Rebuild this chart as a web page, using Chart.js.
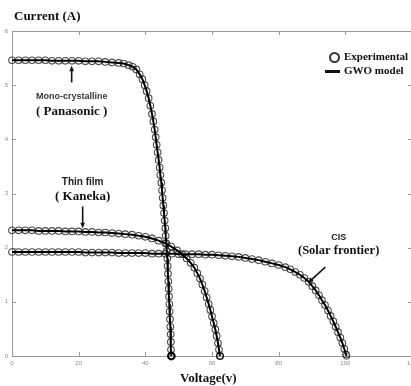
<!DOCTYPE html>
<html><head><meta charset="utf-8">
<script src="https://cdn.jsdelivr.net/npm/chart.js@4"></script>
<style>
html,body{margin:0;padding:0;background:#fff;overflow:hidden}
#wrap{position:relative;width:411px;height:386px;overflow:hidden}
#box{position:absolute;left:0;top:0;width:421px;height:386px}
.t{position:absolute;font-family:"Liberation Serif",serif;font-weight:bold;color:#111;white-space:nowrap;line-height:1}
.sym-o{position:absolute;left:329px;top:52px;width:7px;height:7px;border:2px solid #333;border-radius:50%}
.sym-l{position:absolute;left:325px;top:70px;width:15px;height:3px;background:#111}
</style></head><body>
<div id="wrap">
  <div id="box"><canvas id="c" width="421" height="386"></canvas></div>
  <div class="t" style="left:14px;top:9px;font-size:13px">Current (A)</div>
  <div class="t" style="left:180px;top:371px;font-size:13px">Voltage(v)</div>
  <div class="sym-o"></div>
  <div class="t" style="left:344px;top:51px;font-size:11px">Experimental</div>
  <div class="sym-l"></div>
  <div class="t" style="left:344px;top:65px;font-size:11px">GWO model</div>
</div>
<script>
/* I-V curves: Panasonic / Kaneka / Solar frontier — experimental vs GWO model */
const X_TICKS = [0, 20, 40, 60, 80, 100, 120];
const Y_TICKS = [0, 1, 2, 3, 4, 5, 6];

// Mono-crystalline (Panasonic)
const PAN_V = [0, 2, 4, 6, 8, 10, 12, 14, 16, 18, 20, 22, 24, 26, 28, 30, 32, 33.5, 35, 36.2, 37.3, 38.3, 39.1, 39.8,
  40.4, 41.0, 41.5, 42.0, 42.4, 42.8, 43.1, 43.4, 43.7, 44.0, 44.3, 44.5, 44.8, 45.0, 45.2, 45.4, 45.6, 45.8, 46.0,
  46.1, 46.3, 46.4, 46.6, 46.7, 46.8, 46.9, 47.0, 47.1, 47.2, 47.3, 47.4, 47.5, 47.6, 47.65, 47.7, 47.8];
const PAN_I = [5.46, 5.46, 5.46, 5.46, 5.46, 5.46, 5.45, 5.45, 5.45, 5.45, 5.45, 5.44, 5.44, 5.44, 5.43, 5.42, 5.41, 5.40, 5.37, 5.34, 5.29, 5.20, 5.11, 5.00,
  4.89, 4.76, 4.62, 4.47, 4.33, 4.18, 4.04, 3.90, 3.76, 3.62, 3.48, 3.34, 3.20, 3.06, 2.92, 2.78, 2.64, 2.50, 2.36,
  2.22, 2.08, 1.94, 1.80, 1.66, 1.52, 1.38, 1.24, 1.10, 0.96, 0.82, 0.68, 0.54, 0.40, 0.26, 0.12, 0];

// Thin film (Kaneka)
const KAN_V = [0, 2, 4, 6, 8, 10, 12, 14, 16, 18, 20, 22, 24, 26, 28, 30, 32, 34, 36, 38, 40, 42, 44, 46, 47.8, 49.5,
  51, 52.4, 53.6, 54.7, 55.6, 56.4, 57.1, 57.8, 58.4, 59.0, 59.5, 60.0, 60.5, 61.0, 61.4, 61.8, 62.1, 62.4];
const KAN_I = [2.32, 2.32, 2.32, 2.32, 2.31, 2.31, 2.31, 2.31, 2.30, 2.30, 2.30, 2.29, 2.29, 2.28, 2.28, 2.27, 2.26, 2.25, 2.24, 2.22, 2.20, 2.17, 2.13, 2.08, 2.02, 1.95,
  1.88, 1.80, 1.72, 1.63, 1.53, 1.43, 1.32, 1.20, 1.08, 0.96, 0.85, 0.73, 0.61, 0.49, 0.37, 0.24, 0.12, 0];

// CIS (Solar frontier)
const CIS_V = [0, 2, 4, 6, 8, 10, 12, 14, 16, 18, 20, 22, 24, 26, 28, 30, 32, 34, 36, 38, 40, 42, 44, 46, 48, 50, 52, 54,
  56, 58, 60, 62, 64, 66, 68, 70, 72, 74, 76, 78, 80, 82, 83.5, 85, 86.4, 87.7, 89, 90.1, 91.1, 92.1, 93, 93.9, 94.8,
  95.6, 96.4, 97.1, 97.8, 98.5, 99.1, 99.7, 100.2, 100.4];
const CIS_I = [1.92, 1.92, 1.92, 1.92, 1.92, 1.92, 1.92, 1.92, 1.92, 1.92, 1.92, 1.91, 1.91, 1.91, 1.91, 1.91, 1.90, 1.90, 1.90, 1.90, 1.90, 1.89, 1.89, 1.89, 1.89, 1.88, 1.88, 1.88,
  1.88, 1.87, 1.87, 1.86, 1.85, 1.84, 1.83, 1.81, 1.79, 1.77, 1.74, 1.71, 1.68, 1.64, 1.60, 1.55, 1.50, 1.44, 1.37, 1.29, 1.21, 1.12, 1.03, 0.94, 0.84,
  0.74, 0.64, 0.54, 0.44, 0.34, 0.24, 0.13, 0.03, 0];

// annotations in data units: [V, I]
const NOTES = [
  { text: "Mono-crystalline", at: [17.9, 4.79], font: "bold 9px 'Liberation Sans'", color: "#3a3a3a" },
  { text: "( Panasonic )", at: [17.9, 4.51], font: "bold 13px 'Liberation Serif'", color: "#111" },
  { text: "Thin film", at: [21.2, 3.2], font: "bold 10px 'Liberation Sans'", color: "#222" },
  { text: "( Kaneka)", at: [21.2, 2.95], font: "bold 13px 'Liberation Serif'", color: "#111" },
  { text: "CIS", at: [98.0, 2.19], font: "bold 9px 'Liberation Sans'", color: "#222" },
  { text: "(Solar frontier)", at: [98.0, 1.95], font: "bold 12.5px 'Liberation Serif'", color: "#111" },
];
const ARROWS = [
  { from: [17.9, 5.05], to: [17.9, 5.36] },
  { from: [21.2, 2.76], to: [21.2, 2.36] },
  { from: [94.0, 1.64], to: [88.8, 1.35] },
];

const pts = (vs, is) => vs.map((v, k) => ({ x: v, y: is[k] }));

const SERIES = [
  { v: PAN_V, i: PAN_I, endW: 2.2, endC: "#000" },
  { v: KAN_V, i: KAN_I, endW: 1.6, endC: "#222" },
  { v: CIS_V, i: CIS_I, endW: 1, endC: "rgba(50,50,50,0.85)" },
];

const datasets = [];
SERIES.forEach((s) => {
  const d = pts(s.v, s.i);
  const last = d.length - 1;
  datasets.push({
    data: d, showLine: false, order: 2, clip: 6,
    pointRadius: 3.3, pointBackgroundColor: "rgba(0,0,0,0)",
    pointBorderColor: (c) => (c.dataIndex === last ? s.endC : "rgba(45,45,45,0.85)"),
    pointBorderWidth: (c) => (c.dataIndex === last ? s.endW : 1.1),
  });
  datasets.push({
    data: d, showLine: true, order: 1, clip: 6,
    borderColor: "#000", borderWidth: 2, pointRadius: 0, fill: false,
  });
});

const frame = {
  id: "frame",
  beforeDatasetsDraw(chart) {
    const { ctx, chartArea: a, scales: { x, y } } = chart;
    ctx.save();
    ctx.strokeStyle = "#9a9a9a";
    ctx.lineWidth = 1;
    ctx.beginPath();
    ctx.moveTo(a.left, a.top + 0.5); ctx.lineTo(a.right, a.top + 0.5);
    ctx.moveTo(a.right - 0.5, a.top); ctx.lineTo(a.right - 0.5, a.bottom);
    X_TICKS.forEach((t) => {
      const px = Math.round(x.getPixelForValue(t)) + 0.5;
      ctx.moveTo(px, a.bottom); ctx.lineTo(px, a.bottom - 4);
      ctx.moveTo(px, a.top); ctx.lineTo(px, a.top + 4);
    });
    Y_TICKS.forEach((t) => {
      const py = Math.round(y.getPixelForValue(t)) + 0.5;
      ctx.moveTo(a.left, py); ctx.lineTo(a.left + 4, py);
      ctx.moveTo(a.right, py); ctx.lineTo(a.right - 4, py);
    });
    ctx.stroke();
    ctx.restore();
  },
  afterDatasetsDraw(chart) {
    const { ctx, scales: { x, y } } = chart;
    ctx.save();
    ctx.textAlign = "center"; ctx.textBaseline = "middle";
    NOTES.forEach((n) => {
      ctx.font = n.font; ctx.fillStyle = n.color;
      ctx.fillText(n.text, x.getPixelForValue(n.at[0]), y.getPixelForValue(n.at[1]));
    });
    ctx.strokeStyle = "#111"; ctx.fillStyle = "#111"; ctx.lineWidth = 1.6;
    ARROWS.forEach((r) => {
      const x0 = x.getPixelForValue(r.from[0]), y0 = y.getPixelForValue(r.from[1]);
      const x1 = x.getPixelForValue(r.to[0]), y1 = y.getPixelForValue(r.to[1]);
      const ang = Math.atan2(y1 - y0, x1 - x0), h = 6;
      ctx.beginPath(); ctx.moveTo(x0, y0);
      ctx.lineTo(x1 - Math.cos(ang) * h * 0.8, y1 - Math.sin(ang) * h * 0.8); ctx.stroke();
      ctx.beginPath(); ctx.moveTo(x1, y1);
      ctx.lineTo(x1 - h * Math.cos(ang - 0.4), y1 - h * Math.sin(ang - 0.4));
      ctx.lineTo(x1 - h * Math.cos(ang + 0.4), y1 - h * Math.sin(ang + 0.4));
      ctx.closePath(); ctx.fill();
    });
    ctx.restore();
  },
};

const tickFont = { size: 6, family: "'Liberation Sans'" };
new Chart(document.getElementById("c"), {
  type: "scatter",
  data: { datasets },
  plugins: [frame],
  options: {
    responsive: false, animation: false, devicePixelRatio: 1,
    layout: { padding: { top: 31, right: 1, left: 0, bottom: 0 } },
    plugins: { legend: { display: false }, tooltip: { enabled: false } },
    scales: {
      x: {
        type: "linear", min: 0, max: 120,
        afterBuildTicks: (s) => { s.ticks = X_TICKS.map((v) => ({ value: v })); },
        afterFit: (s) => { s.height = 30; },
        ticks: { font: tickFont, color: "#8a8a8a", padding: 4 },
        grid: { drawOnChartArea: false, drawTicks: false },
        border: { color: "#9a9a9a" },
      },
      y: {
        type: "linear", min: 0, max: 6,
        afterBuildTicks: (s) => { s.ticks = Y_TICKS.map((v) => ({ value: v })); },
        afterFit: (s) => { s.width = 12; },
        ticks: { font: tickFont, color: "#8a8a8a", padding: 4 },
        grid: { drawOnChartArea: false, drawTicks: false },
        border: { color: "#9a9a9a" },
      },
    },
  },
});
</script>
</body></html>
